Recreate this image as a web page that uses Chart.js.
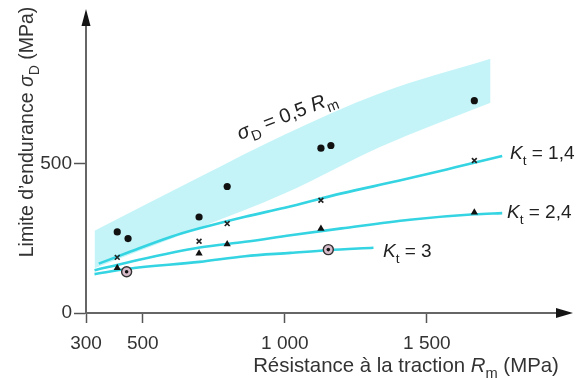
<!DOCTYPE html>
<html><head><meta charset="utf-8">
<script src="https://cdn.jsdelivr.net/npm/chart.js@4.4.0/dist/chart.umd.min.js"></script>
<style>html,body{margin:0;padding:0;background:#fff;}#wrap{width:578px;height:378px;position:relative;}</style>
</head><body><div id="wrap"><canvas id="c" width="578" height="378"></canvas></div>
<script>
// ---- data (Rm in MPa, sigma_D in MPa) ----
const rmDots = [410, 448, 698, 797, 1127, 1162, 1667];
const sigmaDots = [271, 249, 321, 423, 551, 560, 710];
const rmCross = [410, 698, 797, 1127, 1667];
const sigmaCross = [186, 240, 299, 377, 510];
const rmTri = [410, 698, 797, 1127, 1667];
const sigmaTri = [151, 199, 230, 282, 336];
const rmRing = [443, 1153];
const sigmaRing = [138, 212];
const rmKt14 = [345, 450, 600, 700, 860, 1000, 1200, 1400, 1600, 1765];
const sigmaKt14 = [165, 203, 255, 283, 322, 352, 400, 442, 487, 525];
const rmKt24 = [330, 450, 700, 860, 1020, 1200, 1440, 1667, 1765];
const sigmaKt24 = [143, 170, 219, 238, 260, 283, 312, 330, 334];
const rmKt3 = [330, 450, 700, 860, 1020, 1150, 1312];
const sigmaKt3 = [130, 148, 171, 190, 201, 210, 218];
const rmBand = [330, 700, 1000, 1335, 1724];
const bandUpper = [275, 455, 597, 735, 850];
const bandLower = [150, 285, 400, 555, 703];
const xTickValues = [300, 500, 1000, 1500];
const xTickLabels = ['300', '500', '1 000', '1 500'];
const yTickValues = [0, 500];
const yTickLabels = ['0', '500'];

const FONT = "'Liberation Sans', Arial, sans-serif";
const FS = 19;
const pts = (xs, ys) => xs.map((x, i) => ({x: x, y: ys[i]}));
const LINE = '#34d4e2';
const BAND = '#c4f4f8';

function drawRich(ctx, parts, x, y, align, rot, color, size) {
  const fs = size || FS;
  ctx.save();
  ctx.translate(x, y);
  ctx.rotate(rot || 0);
  ctx.fillStyle = color || '#222';
  ctx.textBaseline = 'alphabetic';
  ctx.textAlign = 'left';
  const fontOf = p => (p.i ? 'italic ' : '') + (p.s ? fs * 0.72 : fs) + 'px ' + FONT;
  let total = 0;
  parts.forEach(p => { ctx.font = fontOf(p); total += ctx.measureText(p.t).width; });
  let cx = align === 'right' ? -total : (align === 'center' ? -total / 2 : 0);
  parts.forEach(p => {
    ctx.font = fontOf(p);
    ctx.fillText(p.t, cx, p.s ? fs * 0.3 : 0);
    cx += ctx.measureText(p.t).width;
  });
  ctx.restore();
}

const decor = {
  id: 'decor',
  afterDraw(chart) {
    const ctx = chart.ctx, a = chart.chartArea;
    ctx.save();
    ctx.fillStyle = '#151515';
    ctx.beginPath();
    ctx.moveTo(a.left - 4.5, a.top + 1);
    ctx.lineTo(a.left + 4.5, a.top + 1);
    ctx.lineTo(a.left, a.top - 16);
    ctx.closePath(); ctx.fill();
    ctx.beginPath();
    ctx.moveTo(a.right - 1, a.bottom - 5);
    ctx.lineTo(a.right - 1, a.bottom + 5);
    ctx.lineTo(a.right + 16, a.bottom);
    ctx.closePath(); ctx.fill();
    ctx.restore();
    drawRich(ctx, [{t: 'K', i: 1}, {t: 't', s: 1}, {t: ' = 1,4'}], 510, 159, 'left', 0, '#222');
    drawRich(ctx, [{t: 'K', i: 1}, {t: 't', s: 1}, {t: ' = 2,4'}], 507, 218, 'left', 0, '#222');
    drawRich(ctx, [{t: 'K', i: 1}, {t: 't', s: 1}, {t: ' = 3'}], 383, 257, 'left', 0, '#222');
    drawRich(ctx, [{t: 'σ', i: 1}, {t: 'D', s: 1}, {t: ' = 0,5 '}, {t: 'R', i: 1}, {t: 'm', s: 1}], 240, 140, 'left', -21 * Math.PI / 180, '#222', 20);
    drawRich(ctx, [{t: 'Résistance à la traction '}, {t: 'R', i: 1}, {t: 'm', s: 1}, {t: ' (MPa)'}], 406, 372, 'center', 0, '#333', 20.4);
    drawRich(ctx, [{t: 'Limite d\u2019endurance '}, {t: 'σ', i: 1}, {t: 'D', s: 1}, {t: ' (MPa)'}], 33, 132, 'center', -Math.PI / 2, '#333', 19.5);
  }
};

const markerBase = {showLine: false, borderWidth: 0, fill: false};
new Chart(document.getElementById('c'), {
  type: 'line',
  data: {
    datasets: [
      Object.assign({label: 'ringdot', data: pts(rmRing, sigmaRing), pointStyle: 'circle', pointRadius: 1.8,
        pointBackgroundColor: '#111', pointBorderColor: '#111', pointBorderWidth: 0, order: -1}, markerBase),
      Object.assign({label: 'ring', data: pts(rmRing, sigmaRing), pointStyle: 'circle', pointRadius: 5,
        pointBackgroundColor: '#d9bccb', pointBorderColor: '#333', pointBorderWidth: 1.4, order: 0}, markerBase),
      Object.assign({label: 'dots', data: pts(rmDots, sigmaDots), pointStyle: 'circle', pointRadius: 3.6,
        pointBackgroundColor: '#111', pointBorderColor: '#111', pointBorderWidth: 0, order: 0}, markerBase),
      Object.assign({label: 'cross', data: pts(rmCross, sigmaCross), pointStyle: 'crossRot', pointRadius: 3.4,
        pointBackgroundColor: '#222', pointBorderColor: '#222', pointBorderWidth: 1.6, order: 0}, markerBase),
      Object.assign({label: 'tri', data: pts(rmTri, sigmaTri), pointStyle: 'triangle', pointRadius: 4.2,
        pointBackgroundColor: '#111', pointBorderColor: '#111', pointBorderWidth: 0, order: 0}, markerBase),
      {label: 'Kt14', data: pts(rmKt14, sigmaKt14), borderColor: LINE, borderWidth: 2.6, pointRadius: 0,
        cubicInterpolationMode: 'monotone', fill: false, order: 5},
      {label: 'Kt24', data: pts(rmKt24, sigmaKt24), borderColor: LINE, borderWidth: 2.6, pointRadius: 0,
        cubicInterpolationMode: 'monotone', fill: false, order: 5},
      {label: 'Kt3', data: pts(rmKt3, sigmaKt3), borderColor: LINE, borderWidth: 2.6, pointRadius: 0,
        cubicInterpolationMode: 'monotone', fill: false, order: 5},
      {label: 'bandLower', data: pts(rmBand, bandLower), borderWidth: 0, borderColor: 'rgba(0,0,0,0)', pointRadius: 0,
        cubicInterpolationMode: 'monotone', fill: false, order: 10},
      {label: 'bandUpper', data: pts(rmBand, bandUpper), borderWidth: 0, borderColor: 'rgba(0,0,0,0)', pointRadius: 0,
        cubicInterpolationMode: 'monotone', fill: {target: 8}, backgroundColor: BAND, order: 10}
    ]
  },
  options: {
    responsive: false,
    animation: false,
    devicePixelRatio: 1,
    layout: {padding: {top: 25, right: 21, left: 0, bottom: 0}},
    plugins: {legend: {display: false}, tooltip: {enabled: false}},
    scales: {
      x: {
        type: 'linear', min: 300, max: 1958,
        afterBuildTicks: s => { s.ticks = xTickValues.map(v => ({value: v})); },
        afterFit: s => { s.height = 65; },
        ticks: {callback: v => xTickLabels[xTickValues.indexOf(v)], color: '#333', font: {family: FONT, size: FS},
          padding: 9, maxRotation: 0, autoSkip: false},
        grid: {display: true, drawOnChartArea: false, drawTicks: true, tickLength: 10, tickColor: '#555', tickWidth: 1.5},
        border: {display: true, color: '#666', width: 2}
      },
      y: {
        type: 'linear', min: 0, max: 963,
        afterBuildTicks: s => { s.ticks = yTickValues.map(v => ({value: v})); },
        afterFit: s => { s.width = 86; },
        ticks: {callback: v => yTickLabels[yTickValues.indexOf(v)], color: '#333', font: {family: FONT, size: FS},
          padding: 2, autoSkip: false},
        grid: {display: true, drawOnChartArea: false, drawTicks: true, tickLength: 12, tickColor: '#555', tickWidth: 1.5},
        border: {display: true, color: '#666', width: 2}
      }
    }
  },
  plugins: [decor]
});
</script></body></html>
